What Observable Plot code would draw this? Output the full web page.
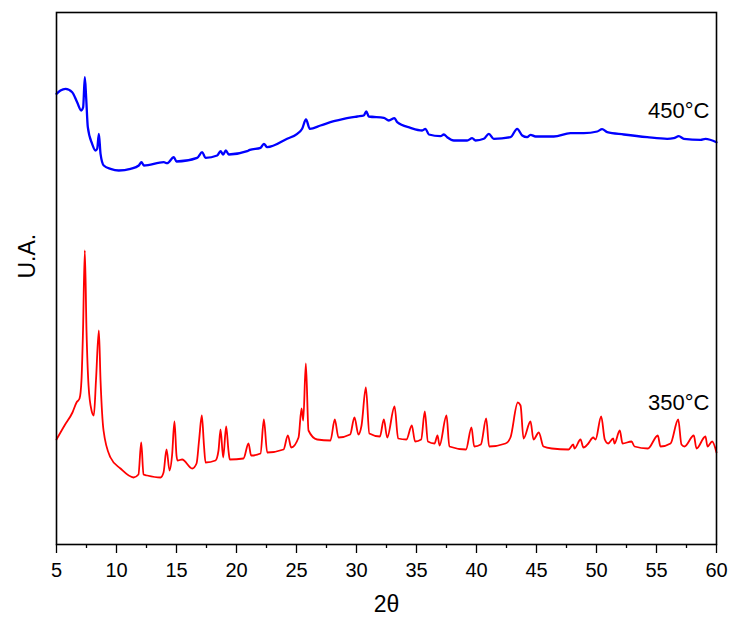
<!DOCTYPE html>
<html>
<head>
<meta charset="utf-8">
<script src="https://cdn.jsdelivr.net/npm/d3@7"></script>
<script src="https://cdn.jsdelivr.net/npm/@observablehq/plot@0.6"></script>
<style>
  html, body { margin: 0; padding: 0; background: #fff; }
  #chart { width: 730px; height: 626px; }
</style>
</head>
<body>
<div id="chart"></div>
<script>
// 2θ positions and intensities (arbitrary units)
const theta350 = [5.00,5.67,6.33,6.67,6.92,7.08,7.21,7.36,7.50,7.67,7.92,8.11,8.29,8.53,8.67,8.92,9.50,10.33,11.42,11.83,12.06,12.25,12.56,13.67,13.92,14.17,14.42,14.63,14.83,15.00,15.08,15.47,16.31,16.67,16.88,17.11,17.29,17.42,18.25,18.50,18.67,18.89,19.14,19.33,19.44,20.58,21.00,21.22,22.00,22.28,22.56,23.92,24.28,24.56,25.17,25.42,25.56,25.78,26.00,26.72,27.83,28.19,28.50,29.47,29.83,30.16,30.42,30.78,31.07,31.95,32.28,32.56,33.17,33.47,34.16,34.61,34.88,35.39,35.69,35.95,36.50,36.75,36.92,37.50,37.74,39.12,39.58,39.81,40.36,40.81,41.05,42.42,42.83,43.44,43.67,43.92,44.50,44.75,45.19,45.58,46.28,47.67,48.06,48.17,48.67,48.91,49.32,49.72,49.92,50.39,50.69,50.97,51.39,51.50,51.94,52.17,52.92,53.17,54.28,55.11,55.33,56.17,56.81,57.08,57.33,58.11,58.33,59.08,59.25,59.64,60.00];
const int350 = [105,119,132,142,146,164,214,294,214,159,134,129,164,214,164,114,87,76,67,70,102,70,69,67,72,95,74,89,123,89,84,85,76,81,104,129,99,82,84,94,115,87,118,94,85,86,101,89,91,125,92,95,109,97,107,136,124,181,114,105,104,125,107,110,127,110,119,157,111,108,125,107,138,106,105,119,103,105,133,103,101,109,99,129,98,95,117,98,100,126,98,101,107,142,139,106,123,105,112,98,96,95,100,96,105,97,101,107,105,128,105,101,106,101,114,101,103,98,96,109,98,101,125,100,98,109,96,108,98,103,92];

const theta450 = [5.00,5.33,5.75,6.31,6.72,7.06,7.22,7.36,7.47,7.61,7.97,8.25,8.39,8.53,8.67,8.94,9.50,10.19,11.17,11.86,12.08,12.28,13.94,14.22,14.78,15.00,16.72,17.14,17.42,18.39,18.67,18.89,19.11,19.36,20.89,21.11,22.00,22.28,22.56,24.22,25.06,25.47,25.79,26.11,27.00,28.11,28.94,30.06,30.61,30.81,31.03,32.28,32.69,33.17,33.39,34.50,35.47,35.75,36.03,37.00,37.28,37.56,38.11,39.22,39.64,39.92,40.61,41.03,41.44,42.83,43.39,43.81,44.22,44.50,44.92,46.44,47.83,48.94,50.06,50.47,50.89,52.28,54.22,55.89,56.44,56.86,57.28,58.67,59.08,60.00];
const int450 = [450.7,454,455.7,452.3,442.3,434,437.3,467.3,447.3,417.3,400.7,394,395.7,410.7,390.7,379,375.7,374,375.7,379,382.3,379,382.3,381.3,387.3,383,386.7,392.3,386.7,389,393.3,390,394,390,393.3,394.7,396.7,400.7,397.3,405.7,410.7,415.7,425,415.7,419,423.3,425.7,428,429,433,428,426.7,424,426.3,422.3,416.7,414,415.7,410,408.3,410,407.3,404,404,406.3,404,405.7,410.7,405.7,407.3,415.7,409,407.3,409.7,408,408,411.3,411.3,413,415.3,412.3,410,407.3,405.7,406.3,408.3,405.7,404.7,405.7,402.3];

const xTicks = [5,10,15,20,25,30,35,40,45,50,55,60];
const xMinor = [7.5,12.5,17.5,22.5,27.5,32.5,37.5,42.5,47.5,52.5,57.5];
const seriesLabels = [
  {name: "450°C", x: 60, y: 434},
  {name: "350°C", x: 60, y: 142}
];

const d350 = theta350.map((t, i) => ({t, v: int350[i]}));
const d450 = theta450.map((t, i) => ({t, v: int450[i]}));

const font = "'Liberation Sans', Arial, sans-serif";

const chart = Plot.plot({
  width: 730,
  height: 626,
  marginLeft: 56,
  marginRight: 14,
  marginTop: 12,
  marginBottom: 82,
  style: {fontFamily: font, background: "#fff", color: "#000"},
  x: {domain: [5, 60]},
  y: {domain: [0, 532], axis: null},
  marks: [
    Plot.axisX({ticks: xMinor, tickSize: 4, text: null, label: null, strokeWidth: 1.3}),
    Plot.axisX({ticks: xTicks, tickSize: 9, tickPadding: 9, fontSize: 20, label: null, strokeWidth: 1.3, tickFormat: d => String(d)}),
    Plot.line(d350, {x: "t", y: "v", stroke: "#ff0000", strokeWidth: 1.8, curve: "monotone-x"}),
    Plot.line(d450, {x: "t", y: "v", stroke: "#0000ff", strokeWidth: 2.3, curve: "monotone-x"}),
    Plot.text(seriesLabels, {x: "x", y: "y", text: "name", textAnchor: "end", dx: -7, fontSize: 22, fill: "#000"}),
    Plot.text(["2θ"], {frameAnchor: "bottom", dy: 67, fontSize: 23, fill: "#000"}),
    Plot.text(["U.A."], {frameAnchor: "left", dx: -29, rotate: -90, fontSize: 23, fill: "#000"}),
    Plot.frame({stroke: "#000", strokeWidth: 1.6})
  ]
});
document.getElementById("chart").appendChild(chart);
</script>
</body>
</html>
